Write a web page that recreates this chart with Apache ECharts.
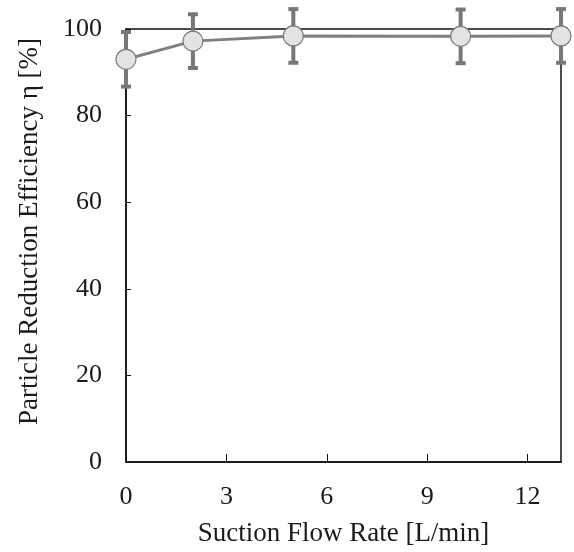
<!DOCTYPE html>
<html>
<head>
<meta charset="utf-8">
<script src="https://cdn.jsdelivr.net/npm/echarts@6/dist/echarts.min.js"></script>
<style>
	html, body { margin: 0; padding: 0; background: #fff; }
	#chart { width: 574px; height: 552px; }
</style>
</head>
<body>
<div id="chart"></div>
<script>
// 数据
let flowRates = [0, 2, 5, 10, 13];
let efficiency = [93.0, 97.2, 98.4, 98.3, 98.4];
let errors = [6.3, 6.2, 6.2, 6.2, 6.2];
let xTicks = [0, 3, 6, 9, 12];
let yTicks = [0, 20, 40, 60, 80, 100];

(function() {
	let myChart = echarts.init(document.getElementById('chart'));

	let font = '"Liberation Serif", "Times New Roman", serif';
	let points = flowRates.map(function(x, i) { return [x, efficiency[i]]; });
	let bars = flowRates.map(function(x, i) {
		return [x, efficiency[i] - errors[i], efficiency[i] + errors[i]];
	});

	let option = {
		animation: false,
		grid: {
			left: 126,
			right: 13,
			top: 29,
			bottom: 88,
			show: true,
			borderColor: '#111',
			borderWidth: 1.5,
			backgroundColor: 'transparent'
		},
		xAxis: {
			type: 'value',
			min: 0,
			max: 13,
			interval: 3,
			name: 'Suction Flow Rate [L/min]',
			nameLocation: 'middle',
			nameGap: 58,
			nameTextStyle: { fontFamily: font, fontSize: 27, color: '#1a1a1a' },
			axisLine: { show: true, lineStyle: { color: '#111', width: 1.5 } },
			axisTick: { show: true, inside: true, length: 8, lineStyle: { color: '#111' } },
			axisLabel: {
				fontFamily: font, fontSize: 26, color: '#1a1a1a', margin: 22,
				showMaxLabel: false,
				formatter: function(v) { return xTicks.indexOf(v) >= 0 ? v : ''; }
			},
			splitLine: { show: false }
		},
		yAxis: {
			type: 'value',
			min: 0,
			max: 100,
			interval: 20,
			name: 'Particle Reduction Efficiency η [%]',
			nameLocation: 'middle',
			nameGap: 83,
			nameTextStyle: { fontFamily: font, fontSize: 27, color: '#1a1a1a', padding: [0, 0, 0, 28] },
			axisLine: { show: true, lineStyle: { color: '#111', width: 1.5 } },
			axisTick: { show: true, inside: true, length: 5, lineStyle: { color: '#111' } },
			axisLabel: {
				fontFamily: font, fontSize: 26, color: '#1a1a1a', margin: 24,
				formatter: function(v) { return yTicks.indexOf(v) >= 0 ? v : ''; }
			},
			splitLine: { show: false }
		},
		series: [
			{
				// 误差线
				type: 'custom',
				clip: false,
				z: 2,
				renderItem: function(params, api) {
					let x = api.value(0);
					let lo = api.coord([x, api.value(1)]);
					let hi = api.coord([x, api.value(2)]);
					let cap = 5;
					let st = { stroke: '#77777a', lineWidth: 4 };
					return {
						type: 'group',
						children: [
							{ type: 'line', shape: { x1: lo[0], y1: lo[1], x2: hi[0], y2: hi[1] }, style: st },
							{ type: 'line', shape: { x1: lo[0] - cap, y1: lo[1], x2: lo[0] + cap, y2: lo[1] }, style: st },
							{ type: 'line', shape: { x1: hi[0] - cap, y1: hi[1], x2: hi[0] + cap, y2: hi[1] }, style: st }
						]
					};
				},
				encode: { x: 0, y: [1, 2] },
				data: bars
			},
			{
				type: 'line',
				z: 3,
				clip: false,
				symbol: 'circle',
				symbolSize: 20,
				lineStyle: { color: '#808083', width: 3 },
				itemStyle: { color: '#e3e3e5', borderColor: '#7a7a7d', borderWidth: 1.2 },
				data: points
			}
		]
	};

	myChart.setOption(option);
})();
</script>
</body>
</html>
